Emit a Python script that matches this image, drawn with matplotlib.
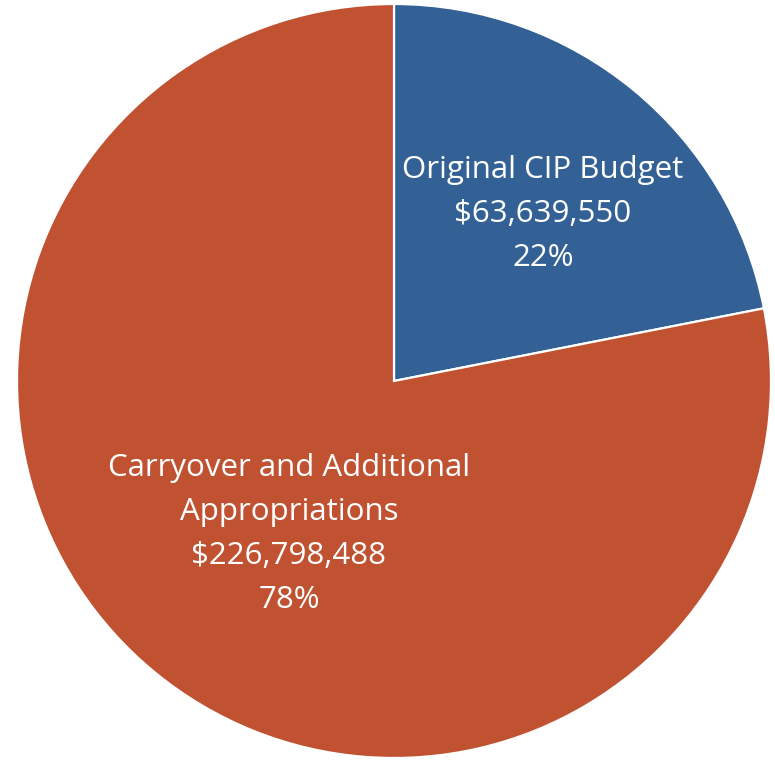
import matplotlib
matplotlib.use("Agg")
import matplotlib.pyplot as plt

categories = ["Original CIP Budget", "Carryover and Additional\nAppropriations"]
values = [63639550, 226798488]
colors = ["#336195", "#C05232"]

W, H = 775, 760
cx, cy, R = 394, 381, 377

fig = plt.figure(figsize=(W / 100, H / 100), dpi=100)
ax = fig.add_axes([0, 0, 1, 1])

total = sum(values)
wedges, _ = ax.pie(values, colors=colors, startangle=90, counterclock=False,
                   radius=1.0, wedgeprops=dict(edgecolor="white", linewidth=1.6))
ax.set_aspect("auto")
ax.set_xlim(-cx / R, (W - cx) / R)
ax.set_ylim((cy - H) / R, cy / R)
ax.axis("off")

label_pos = [((543 - cx) / R, (cy - 214) / R), ((289 - cx) / R, (cy - 534) / R)]
for cat, v, (x, y) in zip(categories, values, label_pos):
    pct = round(v / total * 100)
    txt = f"{cat}\n${v:,.0f}\n{pct}%"
    ax.text(x, y, txt, ha="center", va="center", color="white",
            fontsize=22.5, family="Open Sans", linespacing=1.62)

fig.savefig("out.png", dpi=100)
